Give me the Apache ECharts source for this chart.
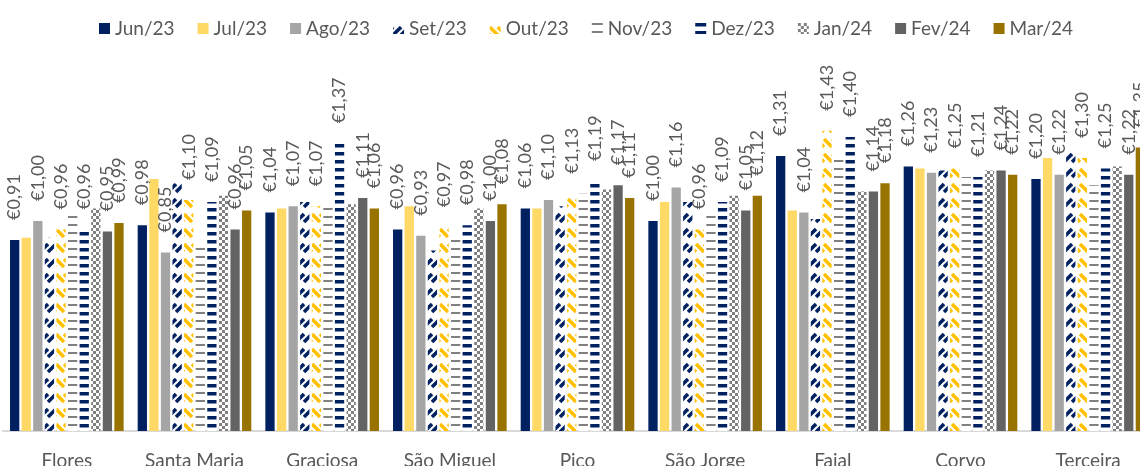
<!DOCTYPE html>
<html>
<head>
<meta charset="utf-8">
<script src="https://cdn.jsdelivr.net/npm/echarts@6/dist/echarts.min.js"></script>
<style>
  html, body { margin: 0; padding: 0; background: #fff; }
  #chart { width: 1140px; height: 466px; }
</style>
</head>
<body>
<div id="chart"></div>
<script>
const islands = ['Flores', 'Santa Maria', 'Graciosa', 'São Miguel', 'Pico', 'São Jorge', 'Faial', 'Corvo', 'Terceira']
const months = ['Jun/23', 'Jul/23', 'Ago/23', 'Set/23', 'Out/23', 'Nov/23', 'Dez/23', 'Jan/24', 'Fev/24', 'Mar/24']

const jun23 = [0.91, 0.98, 1.04, 0.96, 1.06, 1.00, 1.31, 1.26, 1.20]
const jul23 = [0.92, 1.20, 1.06, 1.07, 1.06, 1.09, 1.05, 1.25, 1.30]
const ago23 = [1.00, 0.85, 1.07, 0.93, 1.10, 1.16, 1.04, 1.23, 1.22]
const set23 = [0.92, 1.18, 1.09, 0.86, 1.07, 1.09, 1.01, 1.24, 1.33]
const out23 = [0.96, 1.10, 1.07, 0.97, 1.13, 0.96, 1.43, 1.25, 1.30]
const nov23 = [1.05, 0.89, 1.08, 0.93, 1.13, 1.05, 1.30, 1.21, 1.17]
const dez23 = [0.96, 1.09, 1.37, 0.98, 1.19, 1.09, 1.40, 1.21, 1.25]
const jan24 = [1.06, 1.12, 1.08, 1.06, 1.15, 1.12, 1.14, 1.24, 1.26]
const fev24 = [0.95, 0.96, 1.11, 1.00, 1.17, 1.05, 1.14, 1.24, 1.22]
const mar24 = [0.99, 1.05, 1.06, 1.08, 1.11, 1.12, 1.18, 1.22, 1.35]

const values = [jun23, jul23, ago23, set23, out23, nov23, dez23, jan24, fev24, mar24]
// only these months carry data labels in the original
const labelled = [true, false, true, false, true, false, true, false, true, true]

const navy = '#002060'

// small canvas tiles used as pattern fills
const tile = (w, h, draw) => {
  const c = document.createElement('canvas')
  c.width = w
  c.height = h
  const ctx = c.getContext('2d')
  ctx.fillStyle = '#fff'
  ctx.fillRect(0, 0, w, h)
  draw(ctx)
  return { image: c, repeat: 'repeat' }
}

// wide diagonal dashes, "/" when up is true, "\" otherwise
const diagDash = (color, up) => tile(8, 15, ctx => {
  ctx.strokeStyle = color
  ctx.lineWidth = 3.5
  for (const dx of [-8, 0, 8]) {
    for (const dy of [-15, 0, 15]) {
      ctx.beginPath()
      if (up) {
        ctx.moveTo(dx, 12 + dy)
        ctx.lineTo(8 + dx, 4 + dy)
      } else {
        ctx.moveTo(dx, 4 + dy)
        ctx.lineTo(8 + dx, 12 + dy)
      }
      ctx.stroke()
    }
  }
})

const horzDash = (color, thick) => tile(4, 8, ctx => {
  ctx.fillStyle = color
  ctx.fillRect(0, 0, 4, thick)
})

const checker = color => tile(6, 6, ctx => {
  ctx.fillStyle = color
  ctx.fillRect(0, 0, 3, 3)
  ctx.fillRect(3, 3, 3, 3)
})

const fills = [
  navy,
  '#FFD966',
  '#A5A5A5',
  diagDash(navy, true),
  diagDash('#FFC000', false),
  horzDash('#808080', 2),
  horzDash(navy, 3.5),
  checker('#808080'),
  '#636363',
  '#997300'
]

const font = 'Lato, "Noto Sans", sans-serif'

const chart = echarts.init(document.getElementById('chart'))
chart.setOption({
  animation: false,
  textStyle: { fontFamily: font },
  legend: {
    top: 14,
    left: 94,
    itemWidth: 11,
    itemHeight: 11,
    itemGap: 23,
    icon: 'rect',
    textStyle: { fontSize: 19, color: '#595959', fontFamily: font }
  },
  grid: { left: 3, right: -12, top: 95, bottom: 35, outerBoundsMode: 'none', containLabel: false },
  xAxis: {
    type: 'category',
    data: islands,
    axisTick: { show: false },
    axisLine: { lineStyle: { color: '#D9D9D9', width: 2 } },
    axisLabel: { interval: 0, fontSize: 19, color: '#595959', margin: 20, fontFamily: font }
  },
  yAxis: {
    type: 'value',
    min: 0,
    max: 1.6,
    show: false,
    splitLine: { show: false }
  },
  series: months.map((m, i) => ({
    name: m,
    type: 'bar',
    data: values[i],
    barCategoryGap: '11%',
    barGap: '25%',
    itemStyle: { color: fills[i] },
    label: {
      show: labelled[i],
      position: 'top',
      rotate: 90,
      align: 'left',
      verticalAlign: 'middle',
      distance: 20,
      fontSize: 18,
      color: '#595959',
      fontFamily: font,
      formatter: p => '€' + p.value.toFixed(2).replace('.', ',')
    }
  }))
})
</script>
</body>
</html>
